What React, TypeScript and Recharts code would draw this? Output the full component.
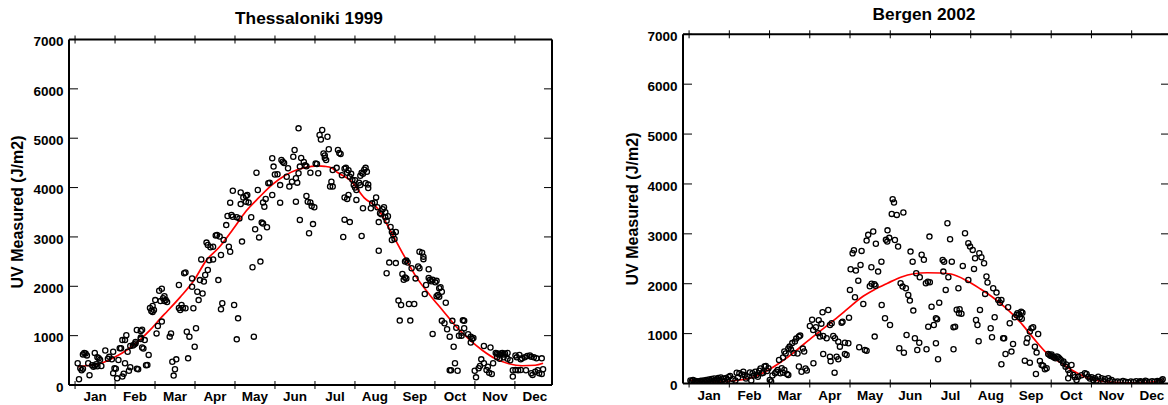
import React from 'react';
import { ComposedChart, Scatter, Line, XAxis, YAxis } from 'recharts';

const FONT = '"Liberation Sans", Arial, Helvetica, sans-serif';

const months = ['Jan', 'Feb', 'Mar', 'Apr', 'May', 'Jun', 'Jul', 'Aug', 'Sep', 'Oct', 'Nov', 'Dec'];
const monthStarts = months.map((_, i) => (i * 365) / 12);
const monthMids = months.map((_, i) => ((i + 0.5) * 365) / 12);
const yTicks = [0, 1000, 2000, 3000, 4000, 5000, 6000, 7000];
const xDomain: [number, number] = [-4.6, 362.8];
const yDomain: [number, number] = [0, 7000];

// [day of year, UV J/m2]
const thessPoints: [number, number][] = [
  [3,115],[2,440],[5,300],[11,200],[6,620],[7,650],[8,640],[9,600],[10,440],[13,400],[14,370],[15,390],[16,420],[17,380],[15,650],[17,560],[18,540],[19,510],[20,385],[23,700],[25,530],[26,570],[28,520],[29,675],[29,240],[30,340],[4,340],[6,330],[31,330],[37,230],[42,360],[47,330],[54,400],
  [32,135],[33,505],[34,745],[35,745],[36,910],[38,910],[36,170],[38,440],[39,1010],[40,675],[41,290],[42,790],[44,800],[45,820],[46,840],[46,870],[47,1115],[48,320],[50,1095],[51,1120],[50,960],[50,930],[51,760],[52,740],[53,910],[55,405],[56,610],[57,1560],[58,1500],[59,1480],
  [60,1520],[59,1600],[61,1720],[62,1045],[63,1195],[64,1910],[66,1285],[65,1700],[66,1950],[67,1760],[68,1800],[68,1700],[69,1720],[70,1680],[72,980],[73,1045],[74,470],[75,190],[76,320],[77,520],[79,2025],[79,1560],[81,1620],[80,1520],[82,1560],[83,2265],[84,2280],[84,1555],[86,540],[85,1080],[87,980],[89,1990],[89,2160],[90,1555],
  [91,775],[92,1150],[93,1890],[94,1720],[95,2125],[96,2545],[97,1855],[98,2095],[99,2230],[101,2330],[100,2885],[101,2835],[103,2790],[105,2800],[102,2530],[105,2545],[109,2125],[107,3030],[108,3040],[110,3010],[111,1535],[112,1655],[111,2635],[113,2940],[115,3240],[116,3425],[117,2800],[118,2700],[119,3445],[120,3410],[118,3695],[120,3935],
  [121,1620],[123,3400],[124,1350],[123,925],[125,3375],[126,3665],[127,2905],[126,3900],[128,3800],[130,3715],[130,3830],[131,3850],[132,3700],[134,3400],[135,2385],[136,980],[137,3155],[138,4300],[139,3950],[140,2990],[141,2500],[142,3290],[143,3270],[143,3700],[144,3610],[145,3770],[146,3195],[147,4090],[148,4100],[150,3850],[150,4595],[151,4425],
  [152,4265],[154,4270],[156,4050],[156,3695],[158,4525],[157,4560],[159,4500],[161,4220],[162,4390],[163,4020],[165,4120],[166,4625],[167,4760],[168,4190],[169,4100],[168,3715],[170,5200],[170,4290],[171,4425],[171,3345],[172,4600],[174,4520],[175,4450],[176,4430],[176,3830],[177,3715],[178,3075],[179,4300],[179,3700],[180,3625],[181,3260],[182,3600],
  [183,4490],[184,4480],[185,4290],[186,5065],[187,4975],[188,5165],[189,4690],[190,4600],[190,4650],[191,4560],[192,5030],[193,4775],[194,4020],[195,4120],[196,4355],[196,4020],[199,4400],[200,4760],[201,4700],[202,4680],[203,4250],[204,3000],[205,4380],[205,3800],[205,3350],[206,4400],[207,4300],[207,3770],[208,4350],[208,3850],[209,3300],[209,4220],[210,4280],[211,4160],[212,4050],
  [213,4150],[213,4000],[214,3950],[214,3750],[216,4100],[217,4240],[217,4050],[218,4300],[218,3020],[219,4280],[219,3580],[220,4360],[221,4400],[221,4090],[222,4320],[223,4060],[223,3990],[225,3580],[226,3680],[228,3700],[229,3800],[230,3600],[231,3300],[231,2720],[232,3480],[233,3460],[234,3560],[235,3600],[236,3500],[236,3400],[237,3330],[238,3420],[237,2265],[239,2480],[240,3200],[241,3100],[241,2940],[242,3050],[243,2960],
  [244,3100],[244,2470],[246,1710],[247,1305],[248,1620],[249,2250],[250,2130],[251,2500],[251,2180],[252,2520],[252,2160],[253,2480],[254,1640],[255,1305],[256,2365],[258,1640],[259,2160],[261,2400],[262,2365],[262,2700],[264,2680],[265,2600],[265,2550],[266,1845],[267,2025],[269,2345],[269,2170],[270,2130],[271,2100],[272,2130],[272,1035],
  [274,2080],[275,2110],[275,1800],[276,1825],[277,1790],[277,1960],[278,1980],[279,1890],[279,1300],[281,1250],[282,1665],[283,1130],[285,980],[285,300],[286,300],[287,1300],[288,775],[289,440],[290,1160],[291,290],[292,1000],[294,1000],[294,1060],[295,1310],[296,1300],[296,1150],[299,1030],[301,980],[301,860],[302,930],[303,950],[304,290],
  [305,155],[307,340],[308,385],[309,520],[311,440],[311,790],[313,305],[314,370],[315,250],[316,760],[317,225],[318,440],[320,650],[321,640],[321,560],[322,630],[323,620],[323,530],[324,640],[325,650],[326,620],[326,560],[327,640],[329,650],[329,530],[331,500],[333,170],[333,300],
  [335,600],[335,305],[336,560],[337,300],[338,610],[339,520],[339,305],[340,540],[342,560],[343,300],[344,590],[346,600],[347,570],[347,240],[348,205],[349,560],[350,270],[351,540],[352,300],[353,240],[355,540],[355,225],[356,320],
];

const thessCurve: [number, number][] = [
  [2,370],[10,395],[20,440],[30,560],[40,720],[50,930],[57,1110],[65,1350],[70,1490],[80,1780],[90,2100],[100,2530],[110,2800],[120,3150],[130,3520],[140,3800],[150,4060],[160,4250],[170,4370],[180,4430],[185,4440],[190,4430],[195,4400],[200,4300],[210,4130],[220,3790],[230,3580],[240,3120],[250,2630],[260,2170],[270,1820],[280,1500],[290,1180],[300,920],[310,700],[320,530],[330,430],[340,390],[350,400],[356,440],
];

const bergenPoints: [number, number][] = [
  [1,60],[2,45],[3,70],[4,35],[5,50],[6,40],[7,30],[8,45],[9,55],[10,35],[11,60],[12,40],[13,70],[14,50],[15,80],[16,55],[17,90],[18,45],[19,100],[20,60],[21,85],[22,110],[23,70],[24,120],[25,60],[26,95],[27,40],[28,110],[29,75],[30,130],
  [31,150],[33,90],[35,60],[36,215],[37,120],[38,205],[40,180],[41,235],[42,170],[43,100],[44,140],[46,220],[47,60],[48,205],[49,160],[50,235],[51,170],[52,135],[53,255],[54,300],[55,205],[56,215],[57,340],[58,350],[59,250],
  [60,305],[61,70],[62,40],[63,160],[65,205],[66,235],[67,270],[68,470],[69,205],[70,305],[71,520],[71,215],[72,270],[72,640],[73,600],[74,190],[75,170],[75,700],[76,740],[77,680],[78,810],[79,610],[80,840],[81,900],[82,600],[83,340],[83,940],[84,960],[85,235],[86,700],[87,640],[88,300],[89,260],
  [91.3,1153],[93.8,1073],[95.9,1127],[97.6,1007],[98.9,940],[101.4,953],[104,906],[106.5,1174],[107.8,1207],[109,953],[110.3,906],[112.8,839],[114,739],[115.3,1220],[116,1240],[117.8,819],[120.4,806],[120.9,1320],[100.9,1428],[105.2,1474],[101.4,592],[106.5,538],[111.5,538],[112.8,485],[117.8,592],[119.1,572],[94,405],[110,217],[107,445],[93,1280],[98,1270],[100,1200],
  [121.6,1876],[125.4,1729],[131.7,1595],[122.1,2290],[126.1,2263],[127.9,2062],[129.6,2377],[123.6,2610],[124.6,2670],[130.4,2658],[134.2,2865],[135.4,2980],[139.2,3046],[141.2,2800],[137.8,2330],[142.9,2243],[145.4,2443],[148.8,2880],[150,3070],[151.3,2920],[136.6,1950],[138,2000],[140.1,1990],[140.9,1960],[145.6,1575],[148.1,1308],[140.3,940],[128.6,726],[132.9,672],[134.2,659],
  [153.9,3695],[154.9,3627],[153.2,3400],[157,3380],[162,3427],[155.6,2878],[158,2744],[149.8,2845],
  [159.9,2010],[161.4,1942],[163.9,1909],[165.7,1775],[166.9,1662],[169.5,1461],[151.9,1174],[158.9,706],[162.4,618],[164.4,973],[170.7,906],[174,818],[172.5,672],[167.4,2644],[169,2443],[175.8,2580],[177.5,2480],[181.7,2945],[171.7,2210],[174.4,2130],[179,2010],[180.5,2040],[182,2030],[183.3,1541],[180.8,1140],[185,1174],[186.6,1308],[189.1,1621],[186.6,806],[179.5,686],
  [191.7,2477],[192.8,2443],[195.3,3213],[197.3,2893],[198.6,2443],[192.2,2243],[194,1876],[196,2130],[203.6,1909],[202.3,1480],[204,1410],[205.9,1400],[204.5,1490],[199.9,1130],[201.1,1140],[199.9,686],[206.9,2357],[208.6,3013],[211.1,2813],[212.4,2744],[214.4,2678],[216.2,2511],[215.4,2297],[211.1,2076],[216.9,1274],[218,1174],[219.4,2611],[188.2,485],[187.5,1287],
  [221,2531],[223,2411],[224.8,2144],[225.6,2024],[223.8,1796],[219.9,1475],[218.9,846],[228,1107],[229,927],[231,1328],[229.9,1909],[232.4,1822],[233.7,1675],[235,1621],[236.1,1675],[237.4,906],[238.2,906],[236.1,385],[239.2,592],[241.2,1528],[242.4,1207],
  [243.7,639],[244.9,792],[246.2,1328],[247.5,1374],[248.2,1408],[249.5,1390],[250,1330],[251,1440],[252,1420],[251.5,1300],[253.8,458],[257.6,418],[255.1,819],[255.8,906],[257.6,1040],[258.9,1107],[260.1,1127],[261.4,739],[262.2,191],[263.9,993],[262.7,619],[265.2,451],[266.5,371],[267.7,358],[269,284],[270.3,305],[271.5,592],
  [272.5,570],[273.5,552],[274,580],[275.3,538],[276,520],[277,505],[278,540],[279,525],[280,500],[281,472],[282.8,405],[283,440],[284.6,338],[285,380],[286.6,271],[286.6,104],[287.8,204],[289.1,371],[290.4,171],[291.6,124],[292.9,70],[294.2,137],[296.7,164],[299.2,204],[300.5,191],[301.7,137],[303,100],
  [304.3,124],[305.5,70],[306.8,104],[309.3,137],[311.8,104],[314.3,90],[316.9,104],[319.4,70],[321.9,37],[308,60],[313,45],[318,55],[324,40],[326,30],[328,50],[330,35],[332,25],
  [334,40],[336,30],[338,45],[340,20],[342,35],[344,25],[346,40],[348,30],[350,45],[352,35],[354,50],[356,40],[358,83],[357,60],[355,30],[345,55],[341,45],
];

const bergenCurve: [number, number][] = [
  [0,70],[10,45],[20,35],[30,45],[40,75],[50,140],[60,270],[70,440],[80,640],[90,860],[100,1070],[110,1280],[120,1500],[130,1720],[140,1880],[150,2010],[160,2130],[170,2200],[180,2220],[190,2215],[198,2195],[210,2060],[220,1900],[230,1720],[240,1500],[250,1240],[260,920],[270,620],[280,430],[290,260],[300,125],[310,50],[320,25],[330,15],[340,15],[350,30],[358,75],
];

const toXY = (arr: [number, number][]) => arr.map(([x, y]) => ({ x, y }));

const BottomTick = (props: any) => {
  const { x, y, payload } = props;
  const v = payload.value;
  const idx = monthMids.findIndex((m) => Math.abs(m - v) < 1e-6);
  if (idx >= 0) {
    return (
      <text x={x} y={y + 16} textAnchor="middle" fontFamily={FONT} fontWeight="bold" fontSize={13.5} fill="#000">
        {months[idx]}
      </text>
    );
  }
  return <line x1={x} x2={x} y1={y - 4} y2={y + 4} stroke="#000" strokeWidth={1} />;
};

const TopTick = (props: any) => {
  const { x, y } = props;
  return <line x1={x} x2={x} y1={y - 4} y2={y + 4} stroke="#000" strokeWidth={1} />;
};

const LeftTick = (props: any) => {
  const { x, y, payload } = props;
  return (
    <g>
      <line x1={x} x2={x + 9} y1={y} y2={y} stroke="#000" strokeWidth={1} />
      <text x={x - 5.5} y={y + 6.8} textAnchor="end" fontFamily={FONT} fontWeight="bold" fontSize={13.5} fill="#000">
        {payload.value}
      </text>
    </g>
  );
};

const RightTick = (props: any) => {
  const { x, y } = props;
  return <line x1={x - 8} x2={x} y1={y} y2={y} stroke="#000" strokeWidth={1} />;
};

const Dot = (p: any) => <circle cx={p.cx} cy={p.cy} r={2.6} fill="none" stroke="#000" strokeWidth={1.3} />;

const axisLine = { stroke: '#000', strokeWidth: 2 };
const allTicks = [...monthStarts, ...monthMids].sort((a, b) => a - b);

const Panel = ({ points, curve, margin }: any) => (
  <ComposedChart width={580} height={405} margin={margin}>
    <XAxis xAxisId="b" type="number" dataKey="x" orientation="bottom" domain={xDomain} allowDataOverflow ticks={allTicks} interval={0}
      height={1} tickSize={0} tickMargin={0} tickLine={false} axisLine={axisLine} tick={<BottomTick />} />
    <XAxis xAxisId="t" type="number" dataKey="x" orientation="top" domain={xDomain} allowDataOverflow ticks={monthStarts} interval={0}
      height={1} tickSize={0} tickMargin={0} tickLine={false} axisLine={axisLine} tick={<TopTick />} />
    <YAxis yAxisId="l" type="number" dataKey="y" orientation="left" domain={yDomain} allowDataOverflow ticks={yTicks} interval={0}
      width={1} tickSize={0} tickMargin={0} tickLine={false} axisLine={axisLine} tick={<LeftTick />} />
    <YAxis yAxisId="r" type="number" dataKey="y" orientation="right" domain={yDomain} allowDataOverflow ticks={yTicks} interval={0}
      width={1} tickSize={0} tickMargin={0} tickLine={false} axisLine={axisLine} tick={<RightTick />} />
    <Scatter xAxisId="b" yAxisId="l" data={toXY(points)} dataKey="y" shape={<Dot />} isAnimationActive={false} />
    <Line xAxisId="b" yAxisId="l" data={toXY(curve)} dataKey="y" type="monotone" stroke="#ff0000" strokeWidth={1.7}
      dot={false} activeDot={false} isAnimationActive={false} />
  </ComposedChart>
);

export default function App() {
  return (
    <div style={{ position: 'absolute', left: 0, top: 0, width: 1168, height: 405, overflow: 'hidden', background: '#fff' }}>
      <div style={{ position: 'absolute', left: 0, top: 0 }}>
        <Panel points={thessPoints} curve={thessCurve} margin={{ top: 38.5, left: 68, right: 27, bottom: 19 }} />
      </div>
      <div style={{ position: 'absolute', left: 600, top: 0 }}>
        <Panel points={bergenPoints} curve={bergenCurve} margin={{ top: 33.3, left: 82, right: 10, bottom: 20.5 }} />
      </div>
      <svg width={1168} height={405} style={{ position: 'absolute', left: 0, top: 0, pointerEvents: 'none' }}>
        <text x={309} y={24} textAnchor="middle" fontFamily={FONT} fontWeight="bold" fontSize={17.3} fill="#000">Thessaloniki 1999</text>
        <text x={924} y={19.5} textAnchor="middle" fontFamily={FONT} fontWeight="bold" fontSize={17.3} fill="#000">Bergen 2002</text>
        <text x={17} y={212} transform="rotate(-90 17 212)" textAnchor="middle" dominantBaseline="central" fontFamily={FONT} fontWeight="bold" fontSize={16} fill="#000">UV Measured (J/m2)</text>
        <text x={632} y={209} transform="rotate(-90 632 209)" textAnchor="middle" dominantBaseline="central" fontFamily={FONT} fontWeight="bold" fontSize={16} fill="#000">UV Measured (J/m2)</text>
      </svg>
    </div>
  );
}
